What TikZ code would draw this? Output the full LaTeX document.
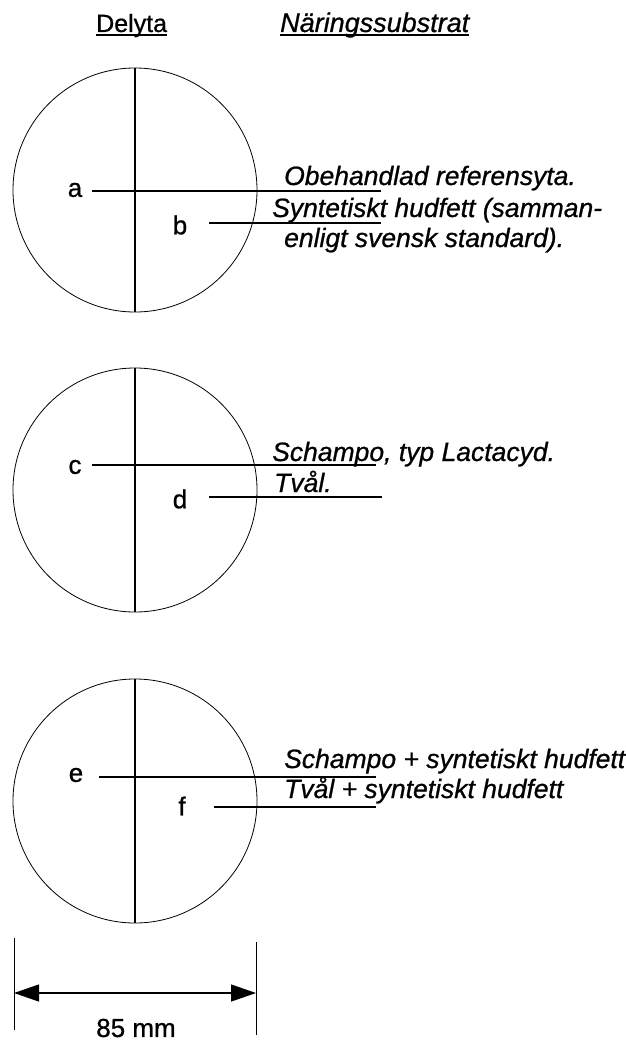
\documentclass[tikz,border=0pt]{standalone}
\usepackage{fontspec}
\setmainfont{Liberation Sans}[FakeBold=0.8]
\usetikzlibrary{arrows.meta}
\begin{document}
\begin{tikzpicture}[x=1pt,y=-1pt,
  txt/.style={inner sep=0pt,anchor=base west,font=\fontsize{26.5}{30}\selectfont\itshape},
  lbl/.style={inner sep=0pt,font=\fontsize{26}{30}\selectfont},
  disc/.style={circle,draw,line width=0.8pt,minimum size=244pt,inner sep=0pt},
  ln/.style={line width=1.1pt}]
\useasboundingbox (0,0) rectangle (626,1041);
% headers
\node[inner sep=0pt,anchor=base west,font=\fontsize{25}{30}\selectfont] (hd) at (96,32) {Delyta};
\node[txt,font=\fontsize{27}{30}\selectfont\itshape] (hn) at (280,32) {Näringssubstrat};
\draw[line width=1.1pt] ([yshift=-3pt]hd.base west) -- ([yshift=-3pt]hd.base east);
\draw[line width=1.1pt] ([yshift=-3pt]hn.base west) -- ([yshift=-3pt]hn.base east);
% circle 1
\node[disc] (C1) at (135,190) {};
\draw[ln] (C1.north) -- (C1.south);
\node[lbl] (la) at (75,190) {a};
\node[lbl] (lb) at (180,225) {b};
\coordinate (ea) at (381,191);
\coordinate (eb) at (381,223);
\draw[ln] (92,191) -- (ea);
\draw[ln] (209,223) -- (eb);
\node[txt] (t1) at (284,185) {Obehandlad referensyta.};
\node[txt] (t2) at (272,217) {Syntetiskt hudfett (samman-};
\node[txt] (t3) at (284,247) {enligt svensk standard).};
% circle 2
\node[disc] (C2) at (135,490) {};
\draw[ln] (C2.north) -- (C2.south);
\node[lbl] (lc) at (75,467) {c};
\node[lbl] (ld) at (180,499) {d};
\coordinate (ec) at (376,465);
\coordinate (ed) at (382,497);
\draw[ln] (92,465) -- (ec);
\draw[ln] (209,497) -- (ed);
\node[txt] (t4) at (272,461) {Schampo, typ Lactacyd.};
\node[txt] (t5) at (274,492) {Tvål.};
% circle 3
\node[disc] (C3) at (135,801) {};
\draw[ln] (C3.north) -- (C3.south);
\node[lbl] (le) at (76,775) {e};
\node[lbl] (lf) at (182,806) {f};
\coordinate (ee) at (376,777);
\coordinate (ef) at (376,807);
\draw[ln] (99,777) -- (ee);
\draw[ln] (214,807) -- (ef);
\node[txt] (t6) at (284,768) {Schampo + syntetiskt hudfett};
\node[txt] (t7) at (284,798) {Tvål + syntetiskt hudfett};
% dimension
\coordinate (v1a) at (14,938);
\coordinate (v1b) at (14,1030);
\coordinate (v2a) at (256,942);
\coordinate (v2b) at (256,1035);
\draw[line width=0.9pt] (v1a) -- (v1b);
\draw[line width=0.9pt] (v2a) -- (v2b);
\coordinate (dl) at (14,993);
\coordinate (dr) at (256,993);
\draw[line width=1.2pt,{Triangle[length=25pt,width=17pt]}-{Triangle[length=25pt,width=17pt]}] (dl) -- (dr);
\node[lbl] (dim) at (136,1028) {85 mm};
\end{tikzpicture}
\end{document}
